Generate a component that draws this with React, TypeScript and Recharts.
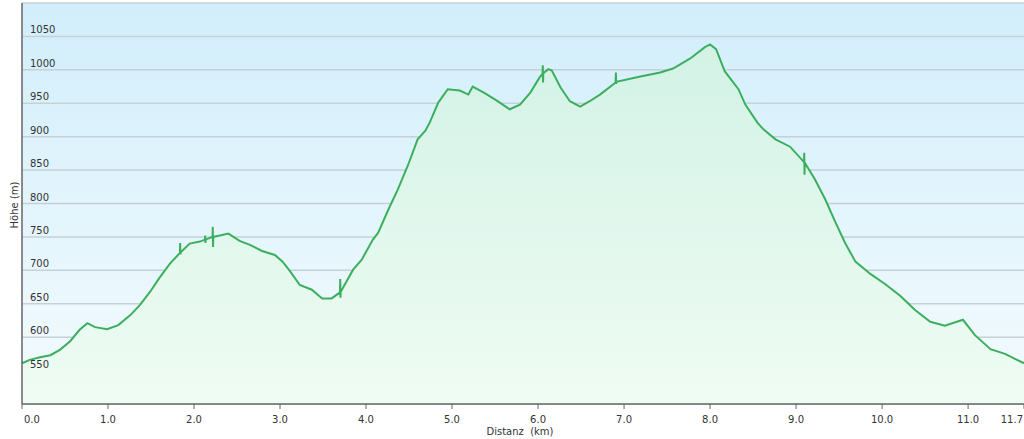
import React from 'react';
import { AreaChart, Area, XAxis, YAxis, CartesianGrid } from 'recharts';

// distance (km)
const distKm: number[] = [
  0, 0.09, 0.21, 0.33, 0.44, 0.56, 0.67, 0.76, 0.85, 0.99, 1.12, 1.26, 1.37, 1.49, 1.6, 1.72,
  1.836, 1.839, 1.842, 1.845, 1.95, 2.07, 2.127, 2.13, 2.133, 2.136, 2.19, 2.215, 2.218, 2.221, 2.224,
  2.3, 2.4, 2.53, 2.65, 2.79, 2.94, 3.03, 3.12, 3.23, 3.37, 3.49, 3.6,
  3.697, 3.7, 3.703, 3.706, 3.85, 3.95,
  4.08, 4.14, 4.26, 4.37, 4.49, 4.6, 4.69, 4.74, 4.84, 4.95, 5.09, 5.19, 5.24, 5.38, 5.52,
  5.67, 5.79, 5.91, 6.02, 6.052, 6.055, 6.058, 6.061, 6.12, 6.16, 6.26, 6.37, 6.49, 6.6, 6.72,
  6.902, 6.905, 6.908, 6.911, 7.19, 7.42, 7.57, 7.77, 7.94, 8.0, 8.07, 8.17, 8.33, 8.41, 8.55, 8.62,
  8.76, 8.93, 9.092, 9.095, 9.098, 9.101, 9.22, 9.34, 9.45, 9.57, 9.69, 9.86, 10.03, 10.21, 10.38,
  10.56, 10.73, 10.94, 11.08, 11.26, 11.43, 11.65,
];

// elevation (m)
const elevM: number[] = [
  561, 566, 570, 573, 581, 594, 611, 621, 615, 612, 618, 633, 648, 668, 689, 710,
  726, 741, 724, 727, 740, 743, 746, 752, 741, 746, 749, 750, 765, 735, 750,
  752, 755, 744, 738, 729, 723, 713, 698, 678, 671, 658, 658,
  667, 687, 659, 668, 701, 716,
  746, 756, 791, 821, 858, 896, 909, 921, 951, 971, 969, 963, 975, 965, 954,
  941, 948, 966, 989, 994, 1007, 981, 995, 1001, 999, 974, 953, 945, 953, 963,
  981, 996, 979, 982, 990, 996, 1002, 1017, 1034, 1038, 1031, 998, 971, 948, 921, 911,
  896, 885, 862, 876, 843, 861, 836, 806, 774, 741, 713, 695, 680, 662, 641,
  623, 617, 626, 603, 582, 575, 561,
];

const xTicks: number[] = [0, 1, 2, 3, 4, 5, 6, 7, 8, 9, 10, 11, 11.65];
const xTickLabels: string[] = ['0.0', '1.0', '2.0', '3.0', '4.0', '5.0', '6.0', '7.0', '8.0', '9.0', '10.0', '11.0', '11.7'];
const yTicks: number[] = [550, 600, 650, 700, 750, 800, 850, 900, 950, 1000, 1050, 1100];

const data = distKm.map((d, i) => ({ d, h: elevM[i] }));

const FONT = '"DejaVu Sans", Verdana, sans-serif';

const YTick = (props: any) => {
  const { y, payload } = props;
  if (payload.value === 1100) return null;
  return (
    <text x={30} y={y - 3} fontSize={10} fontFamily={FONT} fill="#333">
      {payload.value}
    </text>
  );
};

const XTick = (props: any) => {
  const { x, y, payload, index } = props;
  const label = xTickLabels[xTicks.indexOf(payload.value)] ?? String(payload.value);
  let anchor: 'start' | 'middle' | 'end' = 'middle';
  let tx = x;
  if (index === 0) { anchor = 'start'; tx = x + 2; }
  if (payload.value === 11.65) { anchor = 'end'; tx = x - 1; }
  return (
    <text x={tx} y={y + 12} fontSize={10} fontFamily={FONT} fill="#333" textAnchor={anchor}>
      {label}
    </text>
  );
};

export default function App() {
  return (
    <div style={{ position: 'absolute', left: 0, top: 0, width: 1024, height: 439, background: '#fff' }}>
      <AreaChart width={1024} height={439} data={data} margin={{ top: 3, right: 0, left: 0, bottom: 5 }}>
        <defs>
          <linearGradient id="bgGrad" x1="0" y1="0" x2="0" y2="1">
            <stop offset="0%" stopColor="#d1eefb" />
            <stop offset="100%" stopColor="#f4fbfe" />
          </linearGradient>
          <linearGradient id="areaGrad" x1="0" y1="0" x2="0" y2="1">
            <stop offset="0%" stopColor="#d3f2e6" />
            <stop offset="100%" stopColor="#effcf3" />
          </linearGradient>
        </defs>
        <CartesianGrid
          vertical={false}
          stroke="#c6d1d7"
          strokeWidth={1.5}
          fill="url(#bgGrad)"
          fillOpacity={1}
        />
        <XAxis
          dataKey="d"
          type="number"
          domain={[0, 11.65]}
          ticks={xTicks}
          interval={0}
          height={30}
          axisLine={{ stroke: '#666', strokeWidth: 1.5 }}
          tickLine={{ stroke: '#666' }}
          tickSize={5}
          tick={<XTick />}
          label={(p: any) => (
            <text x={520} y={435} fontSize={10} fontFamily={FONT} fill="#333" textAnchor="middle" style={{ whiteSpace: 'pre' }}>
              {'Distanz  (km)'}
            </text>
          )}
        />
        <YAxis
          type="number"
          domain={[500, 1100]}
          ticks={yTicks}
          interval={0}
          width={22}
          axisLine={{ stroke: '#666', strokeWidth: 1.5 }}
          tickLine={false}
          tick={<YTick />}
          label={(p: any) => (
            <text x={18} y={205} fontSize={10} fontFamily={FONT} fill="#333" textAnchor="middle" transform="rotate(-90 18 205)">
              Höhe (m)
            </text>
          )}
        />
        <Area
          type="linear"
          dataKey="h"
          stroke="#3caf5f"
          strokeWidth={2}
          fill="url(#areaGrad)"
          fillOpacity={1}
          isAnimationActive={false}
          dot={false}
          activeDot={false}
        />
      </AreaChart>
    </div>
  );
}
